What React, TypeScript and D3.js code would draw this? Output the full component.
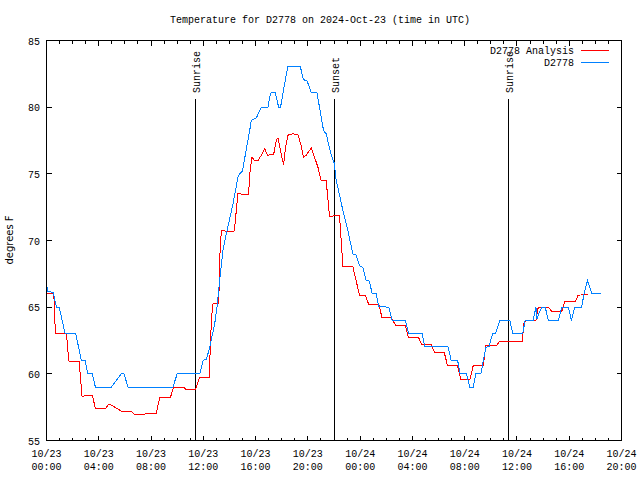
import React from "react";
import * as d3 from "d3";

const TITLE = "Temperature for D2778 on 2024-Oct-23 (time in UTC)";
const Y_LABEL = "degrees F";
const START = Date.UTC(2024, 9, 23, 0, 0);
const END = Date.UTC(2024, 9, 24, 20, 0);
const Y_DOMAIN = [55, 85];
const Y_TICKS = [55, 60, 65, 70, 75, 80, 85];

// hours since 10/23 00:00 UTC
const obsHours = [0.0, 0.08, 0.51, 0.76, 0.97, 1.43, 2.24, 2.67, 2.95, 3.16, 3.51, 3.74, 4.96, 5.73, 5.93, 6.24, 9.67, 10.0, 11.73, 11.99, 12.24, 12.49, 12.87, 13.05, 13.25, 13.5, 13.76, 14.27, 14.65, 14.78, 14.99, 15.55, 15.67, 16.06, 16.44, 16.95, 17.07, 17.2, 17.51, 17.76, 17.91, 18.22, 18.47, 19.42, 19.67, 19.93, 20.26, 20.69, 20.89, 21.2, 21.4, 21.79, 22.04, 22.12, 22.29, 22.68, 23.06, 23.44, 23.69, 23.95, 24.2, 24.46, 24.71, 24.91, 25.22, 25.43, 26.2, 26.45, 27.47, 27.72, 28.74, 28.94, 30.72, 30.97, 31.46, 31.66, 32.14, 32.4, 32.65, 32.86, 33.24, 33.62, 33.87, 34.13, 34.38, 34.69, 35.46, 35.67, 36.43, 36.63, 37.24, 37.45, 37.53, 37.7, 37.9, 38.16, 38.41, 39.18, 39.43, 39.94, 40.17, 40.43, 40.94, 41.14, 41.4, 41.73, 42.41];
const obsTemps = [66.8, 66.2, 66.1, 65.0, 65.0, 63.0, 63.0, 61.0, 61.0, 60.0, 60.0, 59.0, 59.0, 60.0, 60.0, 59.0, 59.0, 60.0, 60.0, 61.0, 61.1, 62.0, 63.75, 65.0, 67.0, 69.25, 70.5, 72.75, 74.75, 75.0, 75.2, 78.25, 79.0, 79.2, 80.0, 80.0, 80.75, 81.1, 81.1, 80.0, 80.0, 81.75, 83.05, 83.05, 82.05, 82.0, 81.1, 81.1, 80.0, 78.25, 78.0, 76.4, 75.75, 74.75, 74.0, 72.25, 70.75, 69.0, 68.9, 68.1, 68.0, 67.0, 66.95, 66.05, 66.0, 65.05, 65.0, 64.0, 64.0, 63.0, 63.0, 62.05, 62.05, 61.0, 61.0, 60.0, 60.0, 59.0, 59.0, 60.0, 60.0, 62.0, 62.05, 63.0, 63.05, 64.0, 64.0, 63.05, 63.0, 64.0, 64.0, 65.0, 64.1, 64.6, 65.0, 65.0, 64.0, 64.0, 65.0, 65.0, 64.0, 65.0, 65.0, 66.0, 67.0, 66.0, 66.0];

const anaHours = [0.05, 0.51, 0.59, 0.66, 0.71, 1.53, 1.7, 1.78, 2.5, 2.72, 3.06, 3.51, 3.74, 4.53, 4.74, 4.89, 5.73, 6.49, 6.75, 7.5, 7.6, 8.4, 8.66, 9.47, 9.73, 10.5, 10.7, 11.4, 11.71, 12.44, 12.49, 12.54, 12.66, 12.74, 13.18, 13.26, 13.38, 13.71, 14.35, 14.4, 14.65, 15.47, 15.55, 15.72, 15.93, 16.18, 16.44, 16.69, 16.9, 17.38, 17.58, 17.71, 17.84, 17.97, 18.14, 18.3, 18.47, 18.86, 19.24, 19.49, 19.67, 19.88, 20.26, 20.51, 20.77, 21.02, 21.4, 21.66, 22.42, 22.55, 22.68, 23.44, 23.69, 23.95, 24.4, 24.66, 25.43, 25.68, 26.37, 26.75, 27.47, 27.69, 28.48, 28.71, 29.42, 29.72, 30.44, 30.69, 31.46, 31.71, 32.4, 32.65, 33.42, 33.62, 34.44, 34.64, 36.43, 36.5, 36.68, 37.45, 37.63, 38.41, 38.64, 39.43, 39.66, 40.45, 40.68, 41.45];
const anaTemps = [66.0, 66.0, 65.5, 63.5, 63.0, 63.0, 61.0, 60.9, 60.9, 58.3, 58.4, 58.4, 57.4, 57.4, 57.7, 57.7, 57.2, 57.2, 56.95, 56.95, 57.05, 57.05, 58.2, 58.2, 59.0, 59.0, 58.8, 58.8, 59.7, 59.75, 60.5, 62.5, 64.5, 65.25, 65.25, 68.75, 70.75, 70.7, 70.7, 71.0, 73.5, 73.45, 75.0, 76.25, 76.0, 76.0, 76.4, 76.9, 76.4, 76.45, 77.5, 77.7, 77.1, 76.4, 75.7, 77.0, 77.9, 78.0, 77.95, 77.1, 76.25, 76.4, 76.95, 76.25, 75.5, 74.5, 74.5, 71.8, 71.9, 70.0, 68.05, 68.05, 67.0, 65.9, 65.9, 65.2, 65.2, 64.2, 64.2, 63.6, 63.6, 62.7, 62.7, 62.2, 62.2, 61.6, 61.6, 60.6, 60.6, 59.55, 59.55, 60.6, 60.6, 62.1, 62.1, 62.4, 62.4, 63.75, 64.0, 64.0, 65.0, 65.0, 64.7, 64.7, 65.4, 65.4, 65.9, 65.95];

const eventLabels = ["Sunrise", "Sunset", "Sunrise"];
const eventHours = [11.37, 22.06, 35.36];

const seriesNames = ["D2778 Analysis", "D2778"];
const seriesColors = ["#ff0000", "#0080ff"];

const W = 640, H = 480;
const X0 = 46.5, X1 = 621.5, Y0 = 40.5, Y1 = 440.5;
const MONO = "'Liberation Mono', 'DejaVu Sans Mono', monospace";
const SANS = "'DejaVu Sans', sans-serif";

const hr = (h: number) => new Date(START + h * 3600000);

export default function App() {
  const x = d3.scaleUtc().domain([new Date(START), new Date(END)]).range([X0, X1]);
  const y = d3.scaleLinear().domain(Y_DOMAIN).range([Y1, Y0]);
  const majorTicks = x.ticks(d3.utcHour.every(4)!);
  const minorTicks = x.ticks(d3.utcHour.every(1)!);
  const fmtDate = d3.utcFormat("%m/%d");
  const fmtTime = d3.utcFormat("%H:%M");
  const line = d3
    .line<[number, number]>()
    .x((d) => x(hr(d[0])))
    .y((d) => y(d[1]));
  const ana: [number, number][] = anaHours.map((h, i) => [h, anaTemps[i]]);
  const obs: [number, number][] = obsHours.map((h, i) => [h, obsTemps[i]]);
  const rx = (v: number) => Math.round(v - 0.5) + 0.5;

  return (
    <svg width={W} height={H} style={{ display: "block", position: "absolute", left: 0, top: 0, background: "#fff" }}>
      <rect x={0} y={0} width={W} height={H} fill="#fff" />
      <text x={320} y={23} textAnchor="middle" fontFamily={MONO} fontSize={10} fill="#000">
        {TITLE}
      </text>
      <g stroke="#000" strokeWidth={1} shapeRendering="crispEdges">
        {minorTicks.map((t, i) => {
          const xx = rx(x(t));
          const major = majorTicks.some((m) => +m === +t);
          const len = major ? 5 : 3;
          return (
            <g key={i}>
              <line x1={xx} x2={xx} y1={Y1} y2={Y1 - len} />
              <line x1={xx} x2={xx} y1={Y0} y2={Y0 + len} />
            </g>
          );
        })}
        {Y_TICKS.map((v, i) => (
          <g key={"y" + i}>
            <line x1={X0} x2={X0 + 5} y1={rx(y(v))} y2={rx(y(v))} />
            <line x1={X1} x2={X1 - 5} y1={rx(y(v))} y2={rx(y(v))} />
          </g>
        ))}
      </g>
      {Y_TICKS.map((v, i) => (
        <text key={"yl" + i} x={40} y={y(v) + 4} textAnchor="end" fontFamily={MONO} fontSize={10} fill="#000">
          {v}
        </text>
      ))}
      {majorTicks.map((t, i) => (
        <g key={"xl" + i}>
          <text x={x(t)} y={457} textAnchor="middle" fontFamily={MONO} fontSize={10} fill="#000">
            {fmtDate(t)}
          </text>
          <text x={x(t)} y={470} textAnchor="middle" fontFamily={MONO} fontSize={10} fill="#000">
            {fmtTime(t)}
          </text>
        </g>
      ))}
      <text
        transform={`translate(13,240) rotate(-90)`}
        textAnchor="middle"
        fontFamily={SANS}
        fontSize={10}
        fill="#000"
      >
        {Y_LABEL}
      </text>
      {eventHours.map((h, i) => {
        const xx = rx(x(hr(h)));
        return (
          <g key={"ev" + i}>
            <line x1={xx} x2={xx} y1={99} y2={Y1} stroke="#000" strokeWidth={1} shapeRendering="crispEdges" />
            <text
              transform={`translate(${xx + 4.5},93) rotate(-90)`}
              textAnchor="start"
              fontFamily={MONO}
              fontSize={10}
              fill="#000"
            >
              {eventLabels[i]}
            </text>
          </g>
        );
      })}
      <path d={line(ana) || ""} fill="none" stroke={seriesColors[0]} strokeWidth={1} shapeRendering="crispEdges" />
      <path d={line(obs) || ""} fill="none" stroke={seriesColors[1]} strokeWidth={1} shapeRendering="crispEdges" />
      {seriesNames.map((n, i) => (
        <g key={"lg" + i}>
          <text x={574} y={54 + i * 12} textAnchor="end" fontFamily={MONO} fontSize={10} fill="#000">
            {n}
          </text>
          <line x1={581} x2={609} y1={50.5 + i * 12} y2={50.5 + i * 12} stroke={seriesColors[i]} strokeWidth={1} shapeRendering="crispEdges" />
        </g>
      ))}
      <rect x={X0} y={Y0} width={X1 - X0} height={Y1 - Y0} fill="none" stroke="#000" strokeWidth={1} shapeRendering="crispEdges" />
    </svg>
  );
}
